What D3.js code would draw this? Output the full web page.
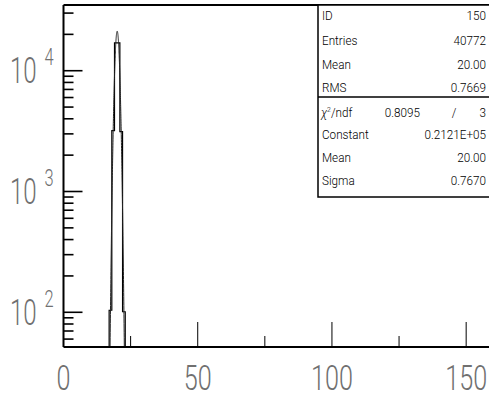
<!DOCTYPE html>
<html>
<head>
<meta charset="utf-8">
<script src="https://cdn.jsdelivr.net/npm/d3@7"></script>
<style>
  body { margin: 0; background: #fff; }
  svg { display: block; }
</style>
</head>
<body>
<svg width="489" height="401"></svg>
<script>
// histogram 150: bin lower edges (unit bins) and contents
var binLow = [17, 18, 19, 20, 21, 22];
var binCounts = [104, 3190, 17000, 17000, 3130, 101];

// gaussian fit result
var fitConstant = 21210, fitMean = 20.00, fitSigma = 0.7670;
var fitRange = [17, 23];

// stats box
var statLabels = ["ID", "Entries", "Mean", "RMS"];
var statValues = ["150", "40772", "20.00", "0.7669"];
var chi2 = "0.8095", ndf = "3";
var fitLabels = ["Constant", "Mean", "Sigma"];
var fitValues = ["0.2121E+05", "20.00", "0.7670"];

var xMajor = [0, 50, 100, 150];
var xMinor = [25, 75, 125];
var yMajor = [100, 1000, 10000];

var svg = d3.select("svg");
// note: "top" is taken by window.top, so use other names
var pLeft = 63.5, pRight = 493, pTop = 5, pBottom = 347;

var x = d3.scaleLinear().domain([0, 160]).range([pLeft, pRight]);
var y = d3.scaleLog().domain([51.6, 35000]).range([pBottom, pTop]);

var font = "Roboto, 'Liberation Sans', sans-serif";
var grey = "#707070";

// squeezed text, PAW fonts are narrow
function label(g, px, py, txt, size, sx, anchor, color, weight) {
  return g.append("text")
    .attr("transform", "translate(" + px + "," + py + ") scale(" + sx + ",1)")
    .attr("text-anchor", anchor || "start")
    .attr("font-family", font)
    .attr("font-size", size)
    .attr("font-weight", weight || 300)
    .attr("fill", color || grey)
    .text(txt);
}

var defs = svg.append("defs");
defs.append("clipPath").attr("id", "plot")
  .append("rect").attr("x", pLeft).attr("y", pTop)
  .attr("width", pRight - pLeft).attr("height", pBottom - pTop);

// histogram outline
var pts = [[binLow[0], y.domain()[0]]];
binLow.forEach(function(lo, i) {
  pts.push([lo, binCounts[i]]);
  pts.push([lo + 1, binCounts[i]]);
});
pts.push([binLow[binLow.length - 1] + 1, y.domain()[0]]);

var line = d3.line()
  .x(function(d) { return x(d[0]); })
  .y(function(d) { return y(d[1]); });

svg.append("path")
  .attr("clip-path", "url(#plot)")
  .attr("d", line(pts))
  .attr("fill", "none")
  .attr("stroke", "#000")
  .attr("stroke-width", 1.2);

// fit curve
var fitPts = d3.range(fitRange[0], fitRange[1] + 0.0001, 0.02).map(function(v) {
  var val = fitConstant * Math.exp(-0.5 * Math.pow((v - fitMean) / fitSigma, 2));
  return [v, Math.max(val, 1)];
});
svg.append("path")
  .attr("clip-path", "url(#plot)")
  .attr("d", line(fitPts))
  .attr("fill", "none")
  .attr("stroke", "#222")
  .attr("stroke-width", 1);

// frame
svg.append("line").attr("x1", pLeft).attr("x2", pRight).attr("y1", pTop).attr("y2", pTop)
  .attr("stroke", "#000").attr("stroke-width", 1.8);
svg.append("line").attr("x1", pLeft).attr("x2", pRight).attr("y1", pBottom).attr("y2", pBottom)
  .attr("stroke", "#000").attr("stroke-width", 2);
svg.append("line").attr("x1", pLeft).attr("x2", pLeft).attr("y1", pTop).attr("y2", pBottom)
  .attr("stroke", "#000").attr("stroke-width", 2);

// x ticks
svg.selectAll(".xmaj").data(xMajor.slice(1)).enter().append("line")
  .attr("x1", function(d) { return x(d); }).attr("x2", function(d) { return x(d); })
  .attr("y1", pBottom).attr("y2", pBottom - 25)
  .attr("stroke", "#000").attr("stroke-width", 1);
svg.selectAll(".xmin").data(xMinor).enter().append("line")
  .attr("x1", function(d) { return x(d); }).attr("x2", function(d) { return x(d); })
  .attr("y1", pBottom).attr("y2", pBottom - 11)
  .attr("stroke", "#000").attr("stroke-width", 1);

var gx = svg.append("g");
xMajor.forEach(function(v) {
  label(gx, x(v), 390, String(v), 35, 0.72, "middle");
});

// y ticks
var yTicks = y.ticks().filter(function(d) { return d >= y.domain()[0] && d <= y.domain()[1]; });
svg.selectAll(".ytick").data(yTicks).enter().append("line")
  .attr("x1", pLeft).attr("y1", function(d) { return y(d); }).attr("y2", function(d) { return y(d); })
  .attr("x2", function(d) { return yMajor.indexOf(d) >= 0 ? pLeft + 19 : pLeft + 10; })
  .attr("stroke", "#000").attr("stroke-width", 1.6);

var gy = svg.append("g");
yMajor.forEach(function(v) {
  var ty = y(v);
  label(gy, 10, ty + 12.5, "10", 36.5, 0.66, "start");
  label(gy, 44.5, ty - 5.5, String(Math.round(Math.log10(v))), 23.5, 0.7, "start");
});

// stats box
var boxL = 318, boxR = pRight, divY = 97, boxB = 197;
var box = svg.append("g");
box.append("rect").attr("x", boxL).attr("y", pTop).attr("width", boxR - boxL).attr("height", boxB - pTop)
  .attr("fill", "#fff").attr("stroke", "#000").attr("stroke-width", 1.5);
box.append("line").attr("x1", boxL).attr("x2", boxR).attr("y1", divY).attr("y2", divY)
  .attr("stroke", "#000").attr("stroke-width", 1.5);

var statY = [20, 45, 69, 92];
statLabels.forEach(function(s, i) {
  label(box, 322, statY[i], s, 13.6, 0.86, "start", "#000");
  label(box, 486, statY[i], statValues[i], 13.6, 0.86, "end", "#000");
});

// chi2 row
var chiY = 116.5;
var chi = box.append("text")
  .attr("transform", "translate(321," + chiY + ") scale(0.86,1)")
  .attr("font-family", font).attr("font-size", 13.6).attr("font-weight", 300).attr("fill", "#000");
chi.append("tspan").attr("font-style", "italic").text("\u03c7");
chi.append("tspan").attr("font-size", 8).attr("dy", -5).text("2");
chi.append("tspan").attr("dy", 5).text("/ndf");
label(box, 420, chiY, chi2, 13.6, 0.86, "end", "#000");
label(box, 454, chiY, "/", 13.6, 0.86, "middle", "#000");
label(box, 486, chiY, ndf, 13.6, 0.86, "end", "#000");

var fitY = [139, 162, 185];
fitLabels.forEach(function(s, i) {
  label(box, 322, fitY[i], s, 13.6, 0.86, "start", "#000");
  label(box, 486, fitY[i], fitValues[i], 13.6, 0.86, "end", "#000");
});
</script>
</body>
</html>
